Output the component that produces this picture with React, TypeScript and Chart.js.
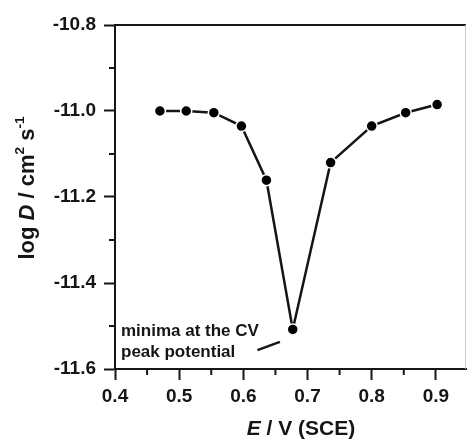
import React, { useEffect, useRef } from "react";
import { Chart, registerables } from "chart.js";

Chart.register(...registerables);

const potentials = [0.47, 0.511, 0.554, 0.597, 0.636, 0.677, 0.736, 0.8, 0.853, 0.902];
const logD = [-11.0, -11.0, -11.004, -11.035, -11.161, -11.508, -11.12, -11.035, -11.004, -10.985];
const xTickValues = [0.4, 0.5, 0.6, 0.7, 0.8, 0.9];
const xMinorValues = [0.45, 0.55, 0.65, 0.75, 0.85];
const yTickValues = [-11.6, -11.4, -11.2, -11.0, -10.8];
const yMinorValues = [-11.5, -11.3, -11.1, -10.9];
const annotationLines = ["minima at the CV", "peak potential"];

const INK = "#151515";
const FONT = "'Liberation Sans', Arial, sans-serif";

function drawRich(ctx: CanvasRenderingContext2D, parts: { t: string; italic?: boolean; sup?: boolean }[], x: number, y: number, size: number) {
  let total = 0;
  const widths: number[] = [];
  for (const p of parts) {
    const s = p.sup ? size * 0.62 : size;
    ctx.font = `${p.italic ? "italic " : ""}bold ${s}px ${FONT}`;
    const w = ctx.measureText(p.t).width;
    widths.push(w);
    total += w;
  }
  let cx = x - total / 2;
  parts.forEach((p, i) => {
    const s = p.sup ? size * 0.62 : size;
    ctx.font = `${p.italic ? "italic " : ""}bold ${s}px ${FONT}`;
    ctx.fillText(p.t, cx, p.sup ? y - size * 0.45 : y);
    cx += widths[i];
  });
}

const decorPlugin = {
  id: "decor",
  afterDraw(chart: any) {
    const ctx: CanvasRenderingContext2D = chart.ctx;
    const { left, right, top, bottom } = chart.chartArea;
    const xs = chart.scales.x;
    const ys = chart.scales.y;
    ctx.save();
    ctx.strokeStyle = INK;
    ctx.lineWidth = 2;
    ctx.beginPath();
    ctx.moveTo(left, top);
    ctx.lineTo(right, top);
    ctx.stroke();
    ctx.lineWidth = 1;
    ctx.strokeStyle = "#c8c8c8";
    ctx.beginPath();
    ctx.moveTo(right - 0.5, top);
    ctx.lineTo(right - 0.5, bottom);
    ctx.stroke();
    // minor ticks
    ctx.strokeStyle = INK;
    ctx.lineWidth = 2;
    for (const v of xMinorValues) {
      const px = xs.getPixelForValue(v);
      ctx.beginPath();
      ctx.moveTo(px, bottom);
      ctx.lineTo(px, bottom + 6);
      ctx.stroke();
    }
    for (const v of yMinorValues) {
      const py = ys.getPixelForValue(v);
      ctx.beginPath();
      ctx.moveTo(left - 6, py);
      ctx.lineTo(left, py);
      ctx.stroke();
    }
    // annotation
    ctx.fillStyle = INK;
    ctx.font = `bold 17px ${FONT}`;
    ctx.textAlign = "left";
    ctx.textBaseline = "alphabetic";
    ctx.fillText(annotationLines[0], left + 6, ys.getPixelForValue(-11.523));
    ctx.fillText(annotationLines[1], left + 6, ys.getPixelForValue(-11.572));
    // pointer line
    ctx.lineWidth = 2.5;
    ctx.beginPath();
    ctx.moveTo(xs.getPixelForValue(0.622), ys.getPixelForValue(-11.556));
    ctx.lineTo(xs.getPixelForValue(0.657), ys.getPixelForValue(-11.537));
    ctx.stroke();
    // x title
    drawRich(ctx, [{ t: "E", italic: true }, { t: " / V (SCE)" }], 301, 435, 21);
    // y title
    ctx.translate(34, 188);
    ctx.rotate(-Math.PI / 2);
    drawRich(ctx, [{ t: "log " }, { t: "D", italic: true }, { t: " / cm" }, { t: "2", sup: true }, { t: " s" }, { t: "-1", sup: true }], 0, 0, 22);
    ctx.restore();
  },
};

export default function App() {
  const ref = useRef<HTMLCanvasElement>(null);
  useEffect(() => {
    document.body.style.margin = "0";
    const chart = new Chart(ref.current!, {
      type: "scatter",
      data: {
        datasets: [
          {
            data: potentials.map((x, i) => ({ x, y: logD[i] })),
            showLine: true,
            borderColor: INK,
            borderWidth: 2.5,
            pointRadius: 5.5,
            pointBackgroundColor: "#000",
            pointBorderColor: "#fff",
            pointBorderWidth: 1.5,
          },
        ],
      },
      options: {
        animation: false,
        responsive: false,
        maintainAspectRatio: false,
        layout: { padding: { top: 25, right: 1, left: 0, bottom: 0 } },
        plugins: { legend: { display: false }, tooltip: { enabled: false } },
        scales: {
          x: {
            type: "linear",
            min: 0.4,
            max: 0.947,
            afterBuildTicks: (s: any) => {
              s.ticks = xTickValues.map((v) => ({ value: v }));
            },
            afterFit: (s: any) => {
              s.height = 73;
            },
            border: { display: true, color: INK, width: 2 },
            grid: { drawOnChartArea: false, drawTicks: true, tickLength: 11, tickColor: INK, tickWidth: 2 },
            ticks: {
              color: INK,
              padding: 5,
              font: { family: FONT, weight: "bold", size: 19 },
              callback: (v: any) => Number(v).toFixed(1),
            },
          },
          y: {
            type: "linear",
            min: -11.6,
            max: -10.8,
            afterBuildTicks: (s: any) => {
              s.ticks = yTickValues.map((v) => ({ value: v }));
            },
            afterFit: (s: any) => {
              s.width = 115;
            },
            border: { display: true, color: INK, width: 2 },
            grid: { drawOnChartArea: false, drawTicks: true, tickLength: 11, tickColor: INK, tickWidth: 2 },
            ticks: {
              color: INK,
              padding: 8,
              font: { family: FONT, weight: "bold", size: 19 },
              callback: (v: any) => Number(v).toFixed(1),
            },
          },
        },
      },
      plugins: [decorPlugin],
    });
    return () => chart.destroy();
  }, []);
  return (
    <div style={{ width: 473, height: 442 }}>
      <canvas ref={ref} width={473} height={442} style={{ display: "block" }} />
    </div>
  );
}
